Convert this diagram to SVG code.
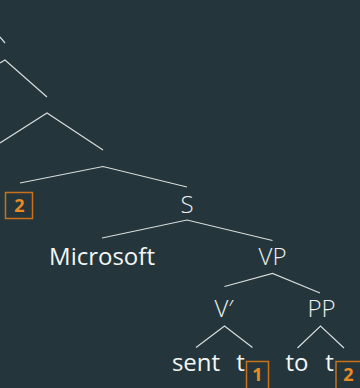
<svg xmlns="http://www.w3.org/2000/svg" width="360" height="388" viewBox="0 0 360 388">
<style>
.bg{fill:#24363b}
.e{fill:none;stroke:#d8dcdc;stroke-width:1.2}
.lab{font-family:"Open Sans","Liberation Sans",sans-serif;font-size:24px;font-weight:300;fill:#eef0f0;text-anchor:middle}
.word{font-family:"Open Sans","Liberation Sans",sans-serif;font-size:24px;font-weight:400;fill:#f4f6f6;text-anchor:middle}
.box{fill:none;stroke:#c8701a;stroke-width:1.5}
.num{font-family:"Open Sans","Liberation Sans",sans-serif;font-size:18px;font-weight:700;fill:#ec8a22;text-anchor:middle}
</style>
<rect class="bg" x="0" y="0" width="360" height="388"/>
<g id="connectors">
<polyline class="e" points="0,37 5,43"/>
<polyline class="e" points="0,63 5,60 47,97"/>
<polyline class="e" points="0,143 47,113 103,150"/>
<polyline class="e" points="20,183 103,166.5 187,187"/>
<polyline class="e" points="102,238 187,220 272.5,240.5"/>
<polyline class="e" points="224.5,286.5 272.5,273.5 320,293"/>
<polyline class="e" points="196,347.5 224.5,326 252.5,347.5"/>
<polyline class="e" points="297.5,348 320.5,326 344,348"/>
</g>
<g id="trace2a"><rect class="box" x="5.5" y="192.5" width="27" height="26"/><text class="num" x="19.5" y="212">2</text></g>
<g id="S"><text class="lab" x="187" y="213">S</text></g>
<g id="Microsoft"><text class="word" x="102" y="265">Microsoft</text></g>
<g id="VP"><text class="lab" x="272.5" y="265">VP</text></g>
<g id="Vbar"><text class="lab" x="224" y="317">V′</text></g>
<g id="PP"><text class="lab" x="321.5" y="317">PP</text></g>
<g id="sent"><text class="word" x="196" y="371">sent</text></g>
<g id="t1"><text class="word" x="240.5" y="371">t</text></g>
<g id="trace1"><rect class="box" x="246.5" y="361.5" width="22" height="30"/><text class="num" x="257.5" y="381">1</text></g>
<g id="to"><text class="word" x="297" y="371">to</text></g>
<g id="t2"><text class="word" x="329.5" y="371">t</text></g>
<g id="trace2b"><rect class="box" x="336" y="361.5" width="30" height="30"/><text class="num" x="348.5" y="381">2</text></g>
</svg>
